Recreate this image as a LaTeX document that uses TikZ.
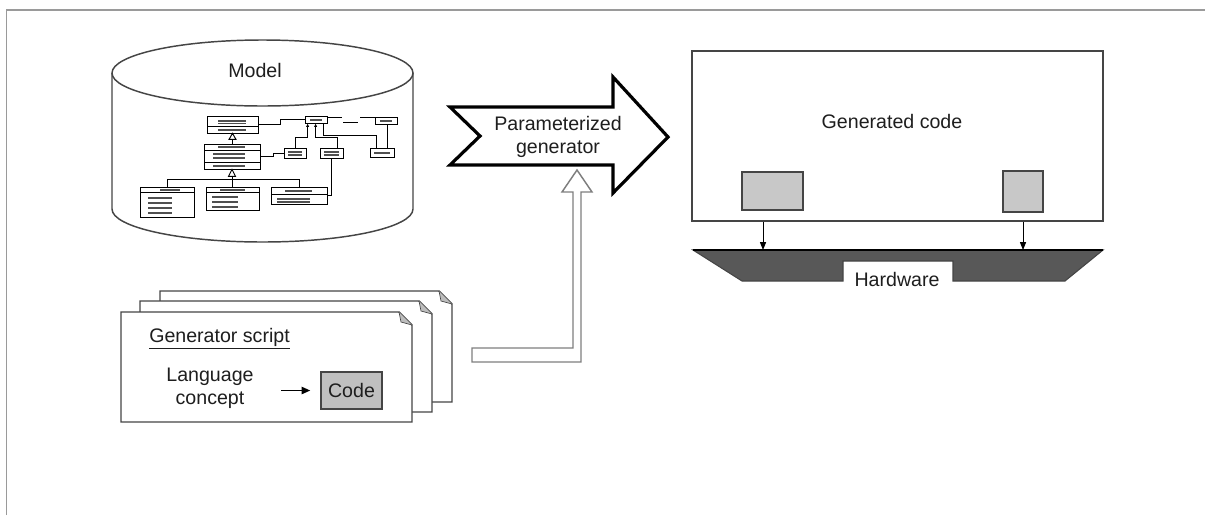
\documentclass[tikz,border=0pt]{standalone}
\usepackage{fontspec}
\setmainfont{Liberation Sans}
\usetikzlibrary{arrows.meta,fit,calc}

\definecolor{txt}{HTML}{1E1E1E}
\definecolor{framegray}{HTML}{9A9A9A}
\definecolor{edge}{HTML}{454545}
\definecolor{boxgray}{HTML}{C8C8C8}
\definecolor{codegray}{HTML}{C0C0C0}
\definecolor{hwgray}{HTML}{585858}
\definecolor{bargray}{HTML}{505050}
\definecolor{hollowgray}{HTML}{7E7E7E}
\definecolor{foldgray}{HTML}{BDBDBD}

% one sheet of the script stack, corners (x1,y1) and (x2,y2)
\newcommand\drawsheet[4]{%
  \draw[sheet] (#1,#2) -- (#3-13,#2) -- (#3,#2+13) -- (#3,#4) -- (#1,#4) -- cycle;
  \draw[sheet, fill=foldgray, line width=0.5pt] (#3-13,#2) -- (#3-11,#2+10) -- (#3,#2+13);
}

\begin{document}
\begin{tikzpicture}[x=0.75pt,y=-0.75pt,
  every node/.style={inner sep=0pt, text=txt, font=\fontsize{14.7}{17.25}\selectfont},
  frame/.style={draw=framegray, line width=1.3pt},
  cyl/.style={draw=edge, line width=1.1pt, fill=white},
  umlbox/.style={draw=black, line width=0.6pt, fill=white, inner sep=0pt},
  umlline/.style={draw=black, line width=0.7pt},
  umlbar/.style={draw=bargray, line width=1.5pt},
  umlthin/.style={draw=black, line width=0.5pt},
  inh/.style={umlline, -{Latex[length=2.6pt,width=2.4pt]}},
  bigarrow/.style={draw=black, line width=2.4pt, fill=white, line join=miter},
  hollow/.style={draw=hollowgray, line width=1.1pt, fill=white, line join=miter},
  codebox/.style={draw=edge, line width=1.1pt, inner sep=0pt},
  graybox/.style={draw=edge, line width=1pt, fill=boxgray, inner sep=0pt},
  sheet/.style={draw=edge, line width=1.1pt, fill=white, line join=miter},
  smallarr/.style={draw=black, line width=0.75pt, -{Triangle[length=6pt,width=4.6pt]}},
  scriptarr/.style={draw=black, line width=1.1pt, -{Triangle[length=6.5pt,width=5.5pt]}}
]
\useasboundingbox (0,0) rectangle (1205,515);

% page frame
\draw[frame] (6.5,515) -- (6.5,10) -- (1205,10);

% ---------- model repository ----------
\draw[cyl] (112,73) -- (112,209) arc[start angle=180, end angle=0, x radius=150.5, y radius=33] -- (413,73);
\draw[cyl] (262.5,73) ellipse [x radius=150.5, y radius=33];
\node (model) at (255,70) {Model};

% class boxes
\node[umlbox, fit={(207,116) (258,133)}] (A) {};
\node[umlbox, fit={(204,144) (260,169)}] (B) {};
\node[umlbox, fit={(140,187) (194,217)}] (C1) {};
\node[umlbox, fit={(206,187) (259,210)}] (C2) {};
\node[umlbox, fit={(271,187) (327,204)}] (C3) {};
\node[umlbox, fit={(305,116) (327,123)}] (D) {};
\node[umlbox, fit={(375,117) (397,124)}] (E) {};
\node[umlbox, fit={(284,148) (306,158)}] (F) {};
\node[umlbox, fit={(320,148) (343,158)}] (G) {};
\node[umlbox, fit={(370,148) (394,157)}] (H) {};

% compartments and attribute bars
\draw[umlthin] (207,126) -- (258,126);
\draw[umlbar] (218,120.5) -- (246,120.5);
\draw[umlbar, line width=0.8pt] (218,123.5) -- (246,123.5);
\draw[umlbar] (218,130) -- (246,130);

\draw[umlthin] (204,150) -- (260,150);
\draw[umlthin] (204,162) -- (260,162);
\draw[umlbar, line width=0.8pt] (218,147) -- (245,147);
\draw[umlbar] (213,154) -- (245,154);
\draw[umlbar] (213,158) -- (245,158);
\draw[umlbar] (213,165.5) -- (245,165.5);

\draw[umlthin] (140,192) -- (194,192);
\draw[umlbar] (160,189.5) -- (180,189.5);
\foreach \yy in {198,203,208,213} \draw[umlbar] (148,\yy) -- (172,\yy);

\draw[umlthin] (206,192) -- (259,192);
\draw[umlbar] (220,189.5) -- (245,189.5);
\foreach \yy in {197,202,206.5} \draw[umlbar] (212,\yy) -- (238,\yy);

\draw[umlthin] (271,194) -- (327,194);
\draw[umlbar] (285,190.5) -- (312,190.5);
\foreach \yy in {198.5,202} \draw[umlbar] (277,\yy) -- (310,\yy);

\draw[umlbar] (310,119.5) -- (322,119.5);
\draw[umlbar] (380,120.5) -- (392,120.5);
\draw[umlbar] (288,152) -- (302,152);
\draw[umlbar] (288,155) -- (302,155);
\draw[umlbar] (324,152) -- (339,152);
\draw[umlbar] (324,155) -- (339,155);
\draw[umlbar] (374,152.5) -- (390,152.5);

% associations
\draw[umlline] (A.east) -- ++(22,0) |- (D.west);
\draw[umlline] (B.east) -- ++(13,0) |- (F.west);
\draw[inh] (F.north) -- ++(0,-10) -| ([xshift=2.25pt]D.south west);
\draw[inh] ([xshift=4.5pt]G.north) -- ++(0,-10) -| ([xshift=8.25pt]D.south west);
\draw[umlline] ([xshift=-3pt]D.south east) -- ++(0,12) -| ([xshift=5.25pt]H.north west);
\draw[umlline] ([xshift=0.75pt]E.south) -- ([xshift=0.75pt]E.south |- H.north);
\draw[umlline] (G.south) |- (C3.east);
\draw[umlline] ([yshift=-1.1pt]D.north east) -- ++(15,0);
\draw[umlline] (343,122) -- (358,122);
\draw[umlline] ([yshift=-0.4pt]E.north west) -- ++(-15,0);

% generalisations
\draw[umlline] (B.north) -- ++(0,-5);
\draw[umlline, fill=white] (A.south) -- ++(3.5,6) -- ++(-7,0) -- cycle;
\draw[umlline] (C1.north) -- ++(0,-7) -| (C3.north);
\draw[umlline] (C2.north) -- ++(0,-11);
\draw[umlline, fill=white] (B.south) -- ++(3.5,7) -- ++(-7,0) -- cycle;

% ---------- generator ----------
\draw[bigarrow] (450,107) -- (613,107) -- (613,77) -- (668,137) -- (613,193)
  -- (613,165) -- (450,165) -- (480,136) -- cycle;
\node[align=center] (pgen) at (558,137) {Parameterized\\generator};

% ---------- generated code on hardware ----------
\node[codebox, fit={(692,51) (1103,221)}] (gencode) {};
\node (gclabel) at (892,121) {Generated code};
\node[graybox, fit={(742,172) (803,210)}] (g1) {};
\node[graybox, fit={(1003,171) (1043,212)}] (g2) {};

\draw[draw=edge, fill=hwgray, line width=0.8pt, line join=miter]
  (693,250) -- (1103,250) -- (1065,281) -- (953,281) -- (953,261)
  -- (843,261) -- (843,281) -- (742,281) -- cycle;
\draw[draw=black, line width=1pt] (693,250) -- (1103,250);
\node (hw) at (897,279) {Hardware};

\coordinate (hw1) at (763,250);
\coordinate (hw2) at (1023,250);
\draw[smallarr] (gencode.south -| hw1) -- (hw1);
\draw[smallarr] (gencode.south -| hw2) -- (hw2);

% ---------- generator scripts ----------
\drawsheet{160}{291}{452}{402}
\drawsheet{140}{301}{432}{412}
\drawsheet{121}{312}{412}{422}
\node[anchor=west] (gs) at (149,339) {\underline{Generator script}};
\node[align=center] (lang) at (210,388.5) {Language\\concept};
\node[codebox, fill=codegray, fit={(321,372) (382,409)}] (code) {};
\node (codetext) at (code.center) {Code};
\draw[scriptarr] ([xshift=20.5pt]lang.east |- code.west) -- ([xshift=-7.5pt]code.west);

% feed from the scripts into the generator
\coordinate (hstart) at (472,355);
\coordinate (htip) at (577,170);
\draw[hollow] (hstart) ++(0,-7) -- ++(101,0) -- ++(0,-156) -- ++(-11,0) -- (htip)
  -- ++(15,22) -- ++(-11,0) -- ++(0,170) -- ++(-109,0) -- cycle;

\end{tikzpicture}
\end{document}
